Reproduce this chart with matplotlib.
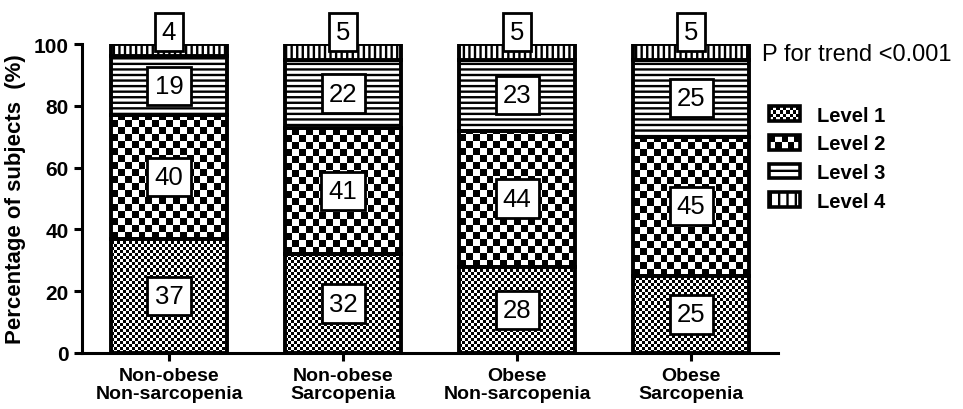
import matplotlib.pyplot as plt
import numpy as np
from matplotlib.patches import Rectangle
from matplotlib.legend_handler import HandlerBase

plt.rcParams['font.family'] = ['Liberation Sans', 'DejaVu Sans']
plt.rcParams['hatch.linewidth'] = 1.7

groups = ['Non-obese\nNon-sarcopenia', 'Non-obese\nSarcopenia',
          'Obese\nNon-sarcopenia', 'Obese\nSarcopenia']
level_names = ['Level 1', 'Level 2', 'Level 3', 'Level 4']
level1 = [37, 32, 28, 25]
level2 = [40, 41, 44, 45]
level3 = [19, 22, 23, 25]
level4 = [4, 5, 5, 5]
levels = [level1, level2, level3, level4]

# checker cell size in pixels (0 = plain hatch)
cell_px = [3, 7, 0, 0]
hatches = [None, None, '---', '|||']

fig = plt.figure(figsize=(9.63, 4.10), dpi=100)
ax = fig.add_axes([0.0852, 0.1366, 0.7228, 0.7534])
ax.set_xlim(-0.5, 3.5)
ax.set_ylim(0, 100)

x = np.arange(len(groups))
width = 0.67
bottom = np.zeros(len(groups))
fig.canvas.draw()
px_x = ax.transData.transform((1, 0))[0] - ax.transData.transform((0, 0))[0]
px_y = ax.transData.transform((0, 1))[1] - ax.transData.transform((0, 0))[1]

for k, vals in enumerate(levels):
    bars = ax.bar(x, vals, width, bottom=bottom, facecolor='white' if cell_px[k] == 0 else 'none',
                  edgecolor='black', linewidth=2.8, hatch=hatches[k], zorder=3)
    if cell_px[k]:
        for b in bars:
            x0, y0 = b.get_x(), b.get_y()
            w, h = b.get_width(), b.get_height()
            nx = int(round(w * px_x / cell_px[k]))
            ny = int(round(h * px_y / cell_px[k])) + 1
            board = np.indices((ny, nx)).sum(0) % 2
            im = ax.imshow(board, cmap='gray', interpolation='nearest', aspect='auto',
                           extent=(x0, x0 + w, y0, y0 + ny * cell_px[k] / px_y),
                           origin='lower', zorder=2)
            im.set_clip_path(b)
    # value boxes
    for xi, v, b0 in zip(x, vals, bottom):
        ypos = b0 + v / 2 if k < 3 else 104
        ax.text(xi, ypos, str(v), ha='center', va='center', fontsize=18.5, zorder=5,
                clip_on=False,
                bbox=dict(boxstyle='square,pad=0.28', facecolor='white',
                          edgecolor='black', linewidth=2))
    bottom = bottom + np.array(vals)

ax.set_xlim(-0.5, 3.5)
ax.set_ylim(0, 100)

for s in ['top', 'right']:
    ax.spines[s].set_visible(False)
for s in ['left', 'bottom']:
    ax.spines[s].set_linewidth(2.2)
ax.set_yticks([0, 20, 40, 60, 80, 100])
ax.set_xticks(x)
ax.set_xticklabels(groups, fontsize=14, fontweight='bold', linespacing=1.1)
ax.tick_params(axis='both', width=2.2, length=6, labelsize=15)
ax.tick_params(axis='x', labelsize=14, pad=4)
for lab in ax.get_yticklabels():
    lab.set_fontweight('bold')
ax.set_ylabel('Percentage of subjects  (%)', fontsize=16, fontweight='bold', labelpad=6)

fig.text(0.791, 0.866, 'P for trend <0.001', fontsize=17, va='center', ha='left')


class CheckerHandler(HandlerBase):
    def __init__(self, n, hatch=None):
        super().__init__()
        self.n = n
        self.hatch = hatch

    def create_artists(self, legend, orig_handle, xdescent, ydescent, width, height,
                       fontsize, trans):
        arts = []
        if self.n:
            nx = self.n
            ny = max(1, int(round(nx * height / width)))
            cw, ch = width / nx, height / ny
            arts.append(Rectangle((-xdescent, -ydescent), width, height,
                                  facecolor='white', edgecolor='none', transform=trans))
            for i in range(nx):
                for j in range(ny):
                    if (i + j) % 2:
                        arts.append(Rectangle((-xdescent + i * cw, -ydescent + j * ch), cw, ch,
                                              facecolor='black', edgecolor='none',
                                              transform=trans))
        arts.append(Rectangle((-xdescent, -ydescent), width, height,
                              facecolor='white' if not self.n else 'none',
                              edgecolor='black', linewidth=2.6, hatch=self.hatch,
                              transform=trans))
        return arts


handles = [Rectangle((0, 0), 1, 1) for _ in level_names]
handler_map = {handles[0]: CheckerHandler(9), handles[1]: CheckerHandler(5),
               handles[2]: CheckerHandler(0, hatch='--'), handles[3]: CheckerHandler(0, hatch='||')}
leg = fig.legend(handles, level_names, handler_map=handler_map, loc='upper left',
                 bbox_to_anchor=(0.799, 0.74), frameon=False, borderpad=0, borderaxespad=0,
                 handlelength=1.5, handleheight=0.75, labelspacing=0.48, handletextpad=0.85,
                 prop=dict(size=14.5, weight='bold'))

fig.savefig('out.png', dpi=100)
